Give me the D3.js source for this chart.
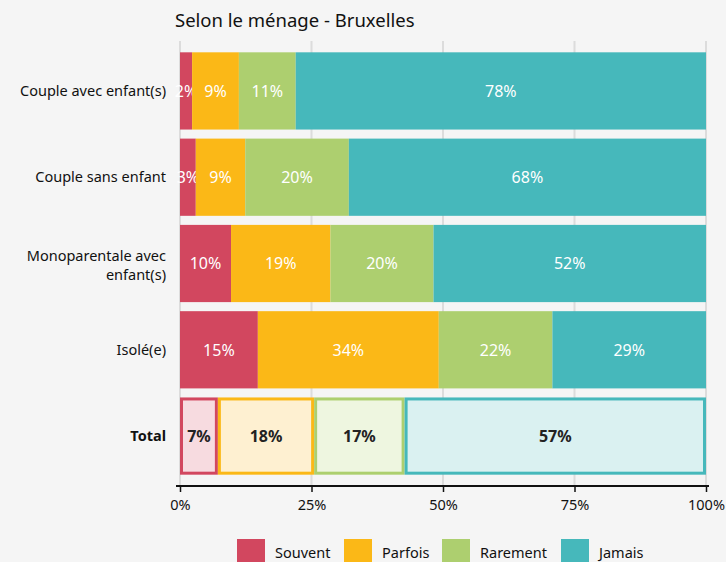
<!DOCTYPE html>
<html>
<head>
<meta charset="utf-8">
<script src="https://cdn.jsdelivr.net/npm/d3@7"></script>
<style>
  body { margin: 0; background: #f5f5f5; }
  svg { display: block; font-family: "Noto Sans", sans-serif; }
</style>
</head>
<body>
<svg width="726" height="562"></svg>
<script>
// categories (rows) and series
const categories = ['Couple avec enfant(s)', 'Couple sans enfant', 'Monoparentale avec enfant(s)', 'Isolé(e)', 'Total'];
const series = ['Souvent', 'Parfois', 'Rarement', 'Jamais'];
const colors = ['#d2475f', '#fbb817', '#adcf6f', '#46b8bb'];
const lightColors = ['#f7dbe0', '#fef0d1', '#eef6e0', '#daf1f1'];

// values per series, one per category (percent)
const souvent = [2.3, 3.0, 9.7, 14.8, 7.2];
const parfois = [8.9, 9.4, 18.9, 34.4, 18.3];
const rarement = [10.8, 19.7, 19.6, 21.6, 17.2];
const jamais = [78.0, 67.9, 51.8, 29.2, 57.3];
const ticks = [0, 25, 50, 75, 100];

const $svg = d3.select('svg');

const x = d3.scaleLinear().domain([0, 100]).range([180, 706]);
const y = d3.scaleBand().domain(categories).range([48, 479]).paddingInner(0.105).paddingOuter(0.05);

// title
$svg.append('text')
  .attr('x', 175).attr('y', 27)
  .attr('font-size', 18.5).attr('fill', '#111')
  .text('Selon le ménage - Bruxelles');

// grid
$svg.append('g').selectAll('line').data(ticks).join('line')
  .attr('x1', (d) => x(d)).attr('x2', (d) => x(d))
  .attr('y1', 41).attr('y2', 486)
  .attr('stroke', '#dcdcdc').attr('stroke-width', 2);

// stack the data
const table = categories.map((c, i) => ({cat: c, Souvent: souvent[i], Parfois: parfois[i], Rarement: rarement[i], Jamais: jamais[i]}));
const stacked = d3.stack().keys(series)(table);

const $bars = $svg.append('g');
stacked.forEach((layer, k) => {
  layer.forEach((d) => {
    const isTotal = d.data.cat === 'Total';
    const x0 = x(d[0]), x1 = x(d[1]);
    const $g = $bars.append('g');
    if (isTotal) {
      $g.append('rect')
        .attr('x', x0 + 1.5).attr('y', y(d.data.cat) + 1.5)
        .attr('width', x1 - x0 - 3).attr('height', y.bandwidth() - 3)
        .attr('fill', lightColors[k]).attr('stroke', colors[k]).attr('stroke-width', 3);
    } else {
      $g.append('rect')
        .attr('x', x0).attr('y', y(d.data.cat))
        .attr('width', x1 - x0).attr('height', y.bandwidth())
        .attr('fill', colors[k]);
    }
    $g.append('text')
      .attr('x', (x0 + x1) / 2).attr('y', y(d.data.cat) + y.bandwidth() / 2)
      .attr('dy', '0.36em').attr('text-anchor', 'middle')
      .attr('font-size', 16)
      .attr('font-weight', isTotal ? 700 : 400)
      .attr('fill', isTotal ? '#222' : '#fff')
      .text(Math.round(d[1] - d[0]) + '%');
  });
});

// category labels
const $labels = $svg.append('g');
categories.forEach((c) => {
  const cy = y(c) + y.bandwidth() / 2;
  const $t = $labels.append('text')
    .attr('text-anchor', 'end').attr('font-size', 14.5)
    .attr('fill', '#111')
    .attr('font-weight', c === 'Total' ? 700 : 400);
  if (c === 'Monoparentale avec enfant(s)') {
    $t.append('tspan').attr('x', 166).attr('y', cy - 3).text('Monoparentale avec');
    $t.append('tspan').attr('x', 166).attr('y', cy + 16).text('enfant(s)');
  } else {
    $t.attr('x', 166).attr('y', cy + 5).text(c);
  }
});

// x axis
const $axis = $svg.append('g').attr('transform', 'translate(0,486)')
  .call(d3.axisBottom(x).tickValues(ticks).tickFormat((d) => d + '%').tickSize(6).tickSizeOuter(0));
$axis.select('.domain').attr('stroke', '#111').attr('stroke-width', 2).attr('d', 'M176,0H709');
$axis.selectAll('.tick line').attr('stroke', '#111').attr('stroke-width', 1.5);
$axis.selectAll('.tick text').attr('font-size', 14.5).attr('fill', '#111').attr('font-family', '"Noto Sans", sans-serif').attr('dy', '1.0em');

// legend
const legendX = [237, 344, 442, 561];
const $legend = $svg.append('g');
series.forEach((s, i) => {
  $legend.append('rect').attr('x', legendX[i]).attr('y', 539).attr('width', 28).attr('height', 24).attr('fill', colors[i]);
  $legend.append('text').attr('x', legendX[i] + 38).attr('y', 558).attr('font-size', 14.5).attr('fill', '#111').text(s);
});
</script>
</body>
</html>
